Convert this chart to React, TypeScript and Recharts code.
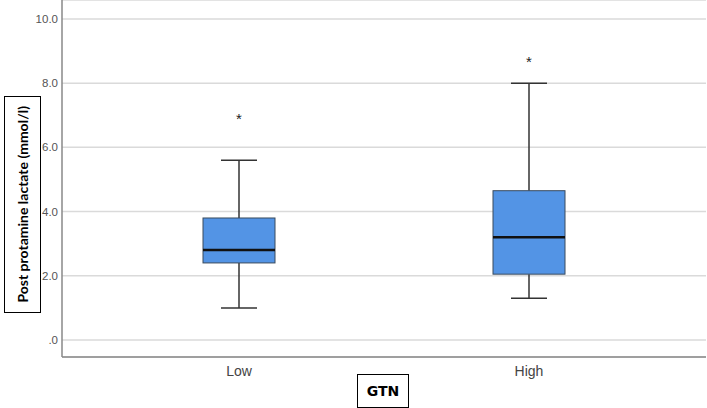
import React from "react";
import { ComposedChart, Bar, Line, XAxis, YAxis, CartesianGrid } from "recharts";

const groups = ["Low", "High"];
const whiskerLow = [1.0, 1.3];
const q1 = [2.4, 2.05];
const median = [2.8, 3.2];
const q3 = [3.8, 4.65];
const whiskerHigh = [5.6, 8.0];
const outliers = [6.9, 8.7];
const yTicks = [0, 2, 4, 6, 8, 10];

const data = groups.map((group, i) => ({
  group,
  lo: whiskerLow[i],
  q1: q1[i],
  median: median[i],
  q3: q3[i],
  hi: whiskerHigh[i],
  range: [whiskerLow[i], whiskerHigh[i]],
  outlier: outliers[i],
}));

const BoxShape = (props: any) => {
  const { x, y, width, height, payload } = props;
  const { lo, hi } = payload;
  const top = y;
  const bottom = y + height;
  const toPx = (v: number) => bottom - ((v - lo) / (hi - lo)) * (bottom - top);
  const cx = x + width / 2;
  const cap = width / 4;
  const yq1 = toPx(payload.q1);
  const yq3 = toPx(payload.q3);
  const ym = toPx(payload.median);
  return (
    <g>
      <line x1={cx} x2={cx} y1={top} y2={yq3} stroke="#333" strokeWidth={1.5} />
      <line x1={cx} x2={cx} y1={yq1} y2={bottom} stroke="#333" strokeWidth={1.5} />
      <line x1={cx - cap} x2={cx + cap} y1={top} y2={top} stroke="#333" strokeWidth={1.5} />
      <line x1={cx - cap} x2={cx + cap} y1={bottom} y2={bottom} stroke="#333" strokeWidth={1.5} />
      <rect x={x} y={yq3} width={width} height={yq1 - yq3} fill="#5394e5" stroke="#3a4a5c" strokeWidth={1} />
      <line x1={x} x2={x + width} y1={ym} y2={ym} stroke="#111" strokeWidth={2.5} />
    </g>
  );
};

const StarDot = (props: any) => {
  const { cx, cy } = props;
  if (cx == null || cy == null) return null;
  return (
    <text x={cx} y={cy + 6} textAnchor="middle" fontSize={15} fill="#222">
      *
    </text>
  );
};

export default function App() {
  return (
    <div style={{ position: "absolute", left: 0, top: 0, width: 707, height: 408, background: "#fff" }}>
      <ComposedChart
        width={707}
        height={408}
        data={data}
        margin={{ top: 0, right: 1, bottom: 0, left: 0 }}
        style={{ fontFamily: "'Liberation Sans', Arial, sans-serif" }}
      >
        <CartesianGrid vertical={false} stroke="#dadada" strokeWidth={1.5} />
        <XAxis
          dataKey="group"
          padding={{ left: 32, right: 32 }}
          tickLine={false}
          tickSize={0}
          tickMargin={9}
          axisLine={{ stroke: "#888", strokeWidth: 1.5 }}
          tick={{ fontSize: 14, fill: "#444" }}
          height={51}
        />
        <YAxis
          type="number"
          domain={[-0.53, 10.59]}
          allowDataOverflow
          ticks={yTicks}
          tickFormatter={(v: number) => (v === 0 ? ".0" : v.toFixed(1))}
          tickLine={false}
          tickSize={0}
          tickMargin={4}
          axisLine={{ stroke: "#888", strokeWidth: 1.5 }}
          tick={{ fontSize: 11.5, fill: "#555" }}
          width={62}
        />
        <Bar dataKey="range" barSize={72} shape={<BoxShape />} isAnimationActive={false} />
        <Line
          dataKey="outlier"
          stroke="none"
          dot={<StarDot />}
          activeDot={false}
          isAnimationActive={false}
        />
      </ComposedChart>
      <div
        style={{
          position: "absolute",
          left: 4,
          top: 96,
          width: 35,
          height: 215,
          border: "1.5px solid #000",
          display: "flex",
          alignItems: "center",
          justifyContent: "center",
          background: "#fff",
        }}
      >
        <span
          style={{
            writingMode: "vertical-rl",
            transform: "rotate(180deg)",
            fontFamily: "Lato, sans-serif",
            fontWeight: 700,
            fontSize: 14,
            color: "#000",
            whiteSpace: "nowrap",
          }}
        >
          Post protamine lactate (mmol/l)
        </span>
      </div>
      <div
        style={{
          position: "absolute",
          left: 357,
          top: 374,
          width: 50,
          height: 32,
          border: "1.5px solid #000",
          display: "flex",
          alignItems: "center",
          justifyContent: "center",
          fontFamily: "'DejaVu Sans', sans-serif",
          fontWeight: 700,
          fontSize: 14,
          color: "#000",
          background: "#fff",
        }}
      >
        GTN
      </div>
    </div>
  );
}
